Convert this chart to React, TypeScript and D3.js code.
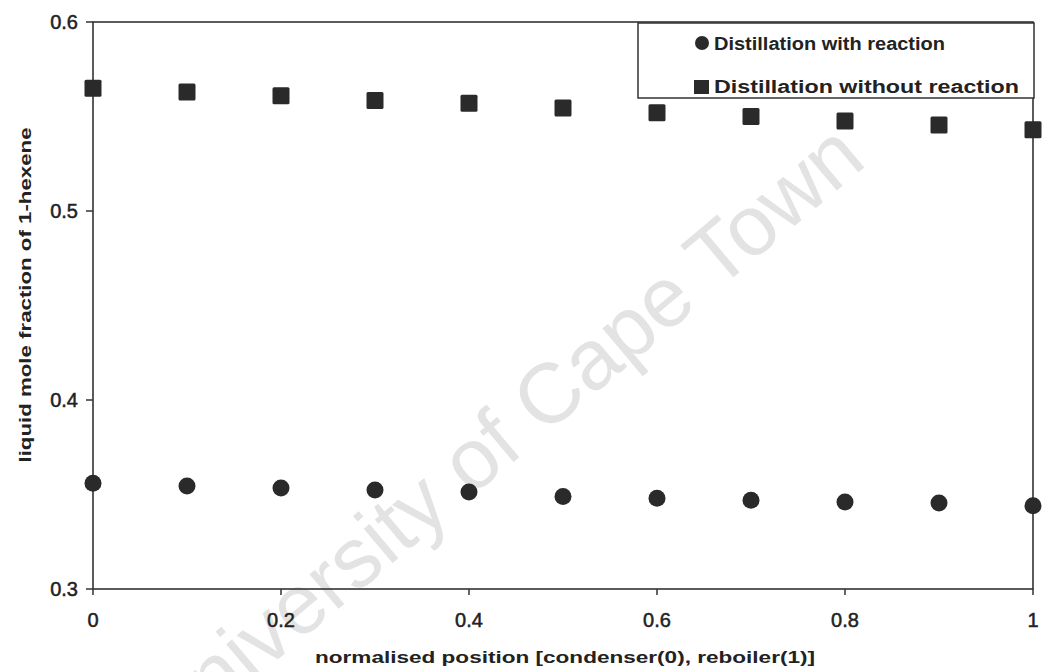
import React from "react";
import * as d3 from "d3";

// Normalised column position (condenser = 0, reboiler = 1)
const positions = [0, 0.1, 0.2, 0.3, 0.4, 0.5, 0.6, 0.7, 0.8, 0.9, 1.0];
// Liquid mole fraction of 1-hexene
const withReaction = [0.356, 0.3545, 0.3534, 0.3524, 0.3513, 0.349, 0.348, 0.347, 0.346, 0.3455, 0.344];
const withoutReaction = [0.565, 0.563, 0.561, 0.5585, 0.557, 0.5545, 0.552, 0.550, 0.5476, 0.5455, 0.543];

const xTicks = [0, 0.2, 0.4, 0.6, 0.8, 1];
const yTicks = [0.3, 0.4, 0.5, 0.6];

const seriesNames = ["Distillation with reaction", "Distillation without reaction"];
const xTitle = "normalised position [condenser(0), reboiler(1)]";
const yTitle = "liquid mole fraction of 1-hexene";
const watermark = "University of Cape Town";

const W = 1042;
const H = 672;
const left = 93;
const right = 1033;
const top = 22;
const bottom = 589;

export default function App() {
  const x = d3.scaleLinear().domain([0, 1]).range([left, right]);
  const y = d3.scaleLinear().domain([0.3, 0.6]).range([bottom, top]);

  const ink = "#2a2a2a";
  const font = "'Liberation Sans', Arial, sans-serif";
  const mark = 8.5;

  return (
    <svg
      width={W}
      height={H}
      viewBox={`0 0 ${W} ${H}`}
      style={{ position: "absolute", left: 0, top: 0, background: "#fff" }}
      fontFamily={font}
    >
      <rect x={0} y={0} width={W} height={H} fill="#fff" />

      {/* watermark */}
      <text
        transform="translate(518,458) rotate(-40)"
        textAnchor="middle"
        fontSize={85}
        fill="#e3e3e3"
      >
        {watermark}
      </text>

      {/* plot frame */}
      <rect
        x={left}
        y={top}
        width={right - left}
        height={bottom - top}
        fill="none"
        stroke="#333"
        strokeWidth={1.6}
      />

      {/* y ticks */}
      {yTicks.map((t) => (
        <g key={"y" + t}>
          <line x1={left - 7} x2={left} y1={y(t)} y2={y(t)} stroke="#333" strokeWidth={1.5} />
          <text
            x={78}
            y={y(t)}
            dy="0.36em"
            textAnchor="end"
            fontSize={20}
            fill="#222"
            stroke="#222"
            strokeWidth={0.5}
          >
            {d3.format(".1f")(t)}
          </text>
        </g>
      ))}

      {/* x ticks */}
      {xTicks.map((t) => (
        <g key={"x" + t}>
          <line x1={x(t)} x2={x(t)} y1={bottom} y2={bottom + 6} stroke="#333" strokeWidth={1.5} />
          <text
            x={x(t)}
            y={627}
            textAnchor="middle"
            fontSize={20}
            fill="#222"
            stroke="#222"
            strokeWidth={0.5}
          >
            {d3.format("~g")(t)}
          </text>
        </g>
      ))}

      {/* axis titles */}
      <text
        x={565}
        y={663}
        textAnchor="middle"
        fontSize={17}
        fontWeight="bold"
        fill="#222"
        textLength={500}
        lengthAdjust="spacingAndGlyphs"
      >
        {xTitle}
      </text>
      <text
        transform="translate(31,295) rotate(-90)"
        textAnchor="middle"
        fontSize={16}
        fontWeight="bold"
        fill="#222"
        textLength={335}
        lengthAdjust="spacingAndGlyphs"
      >
        {yTitle}
      </text>

      {/* series: without reaction (squares) */}
      {positions.map((p, i) => (
        <rect
          key={"s" + i}
          x={x(p) - mark}
          y={y(withoutReaction[i]) - mark}
          width={mark * 2}
          height={mark * 2}
          rx={1.5}
          fill={ink}
        />
      ))}

      {/* series: with reaction (circles) */}
      {positions.map((p, i) => (
        <circle key={"c" + i} cx={x(p)} cy={y(withReaction[i])} r={mark} fill={ink} />
      ))}

      {/* legend */}
      <rect x={638} y={23} width={396} height={75} fill="#fff" stroke="#333" strokeWidth={1.5} />
      <circle cx={702} cy={43} r={7} fill={ink} />
      <text
        x={714}
        y={50}
        fontSize={18}
        fontWeight="bold"
        fill="#222"
        textLength={231}
        lengthAdjust="spacingAndGlyphs"
      >
        {seriesNames[0]}
      </text>
      <rect x={694} y={80} width={15} height={14} fill={ink} />
      <text
        x={714}
        y={93}
        fontSize={18}
        fontWeight="bold"
        fill="#222"
        textLength={305}
        lengthAdjust="spacingAndGlyphs"
      >
        {seriesNames[1]}
      </text>
    </svg>
  );
}
